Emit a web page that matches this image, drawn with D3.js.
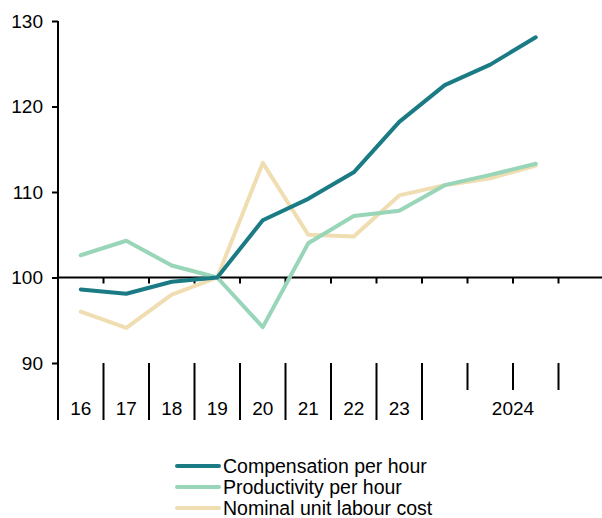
<!DOCTYPE html>
<html>
<head>
<meta charset="utf-8">
<script src="https://cdn.jsdelivr.net/npm/d3@7"></script>
<style>
  html, body { margin: 0; padding: 0; background: #fff; }
  svg { display: block; font-family: Arial, "Liberation Sans", sans-serif; }
</style>
</head>
<body>
<svg id="chart" width="602" height="518"></svg>
<script>
// Periods: annual 2016-2023, then quarters of 2024 (Q4 not yet available)
const periods = ["16", "17", "18", "19", "20", "21", "22", "23", "24Q1", "24Q2", "24Q3", "24Q4"];
const yearLabels = [
  { label: "16", from: "16", to: "16" },
  { label: "17", from: "17", to: "17" },
  { label: "18", from: "18", to: "18" },
  { label: "19", from: "19", to: "19" },
  { label: "20", from: "20", to: "20" },
  { label: "21", from: "21", to: "21" },
  { label: "22", from: "22", to: "22" },
  { label: "23", from: "23", to: "23" },
  { label: "2024", from: "24Q1", to: "24Q4" }
];
const yTicks = [90, 100, 110, 120, 130];

// Index, 2019 = 100
const compensation = [98.6, 98.1, 99.5, 100, 106.7, 109.2, 112.3, 118.2, 122.5, 124.9, 128.1];
const productivity = [102.6, 104.3, 101.4, 100, 94.2, 104.0, 107.2, 107.8, 110.8, 112.0, 113.3];
const unitLabourCost = [96.0, 94.1, 98.0, 100, 113.4, 105.0, 104.8, 109.6, 110.8, 111.6, 113.1];

const seriesNames = ["Compensation per hour", "Productivity per hour", "Nominal unit labour cost"];
const seriesColors = ["#1a7b85", "#99d5b9", "#f0deb2"];
const seriesValues = [compensation, productivity, unitLabourCost];

const svg = d3.select("#chart");
const plotLeft = 58, plotRight = 604, plotTop = 21, plotBottom = 363;
const fontFamily = "Arial, 'Liberation Sans', sans-serif";

const x = d3.scaleBand().domain(periods).range([plotLeft, plotRight]).padding(0);
const y = d3.scaleLinear().domain([90, 130]).range([plotBottom, plotTop]);

const black = "#000";

// Y axis
const yAxis = svg.append("g")
  .attr("transform", `translate(${plotLeft},0)`)
  .call(d3.axisLeft(y).tickValues(yTicks).tickSize(6).tickPadding(9).tickFormat(d3.format("d")));
yAxis.attr("font-size", null).attr("font-family", null);
yAxis.select(".domain").remove();
yAxis.selectAll(".tick line").attr("stroke", black).attr("stroke-width", 2);
yAxis.selectAll(".tick text")
  .style("font-size", "19px")
  .style("font-family", fontFamily)
  .attr("fill", black);

// Left axis line extends through the category area
svg.append("line")
  .attr("x1", plotLeft).attr("x2", plotLeft)
  .attr("y1", plotTop).attr("y2", 420)
  .attr("stroke", black).attr("stroke-width", 2);

// Baseline at 100 with ticks at period boundaries
const y100 = y(100);
svg.append("line")
  .attr("x1", plotLeft).attr("x2", 602)
  .attr("y1", y100).attr("y2", y100)
  .attr("stroke", black).attr("stroke-width", 2);
svg.append("g").selectAll("line")
  .data(periods.slice(1))
  .join("line")
  .attr("x1", d => x(d)).attr("x2", d => x(d))
  .attr("y1", y100).attr("y2", y100 + 6)
  .attr("stroke", black).attr("stroke-width", 2);

// Category separators below the plot
const quarterSet = new Set(["24Q2", "24Q3", "24Q4"]);
svg.append("g").selectAll("line")
  .data(periods.slice(1))
  .join("line")
  .attr("x1", d => x(d)).attr("x2", d => x(d))
  .attr("y1", plotBottom)
  .attr("y2", d => quarterSet.has(d) ? 390 : 420)
  .attr("stroke", black).attr("stroke-width", 2);

// Year labels
svg.append("g").selectAll("text")
  .data(yearLabels)
  .join("text")
  .attr("x", d => (x(d.from) + x(d.to) + x.bandwidth()) / 2)
  .attr("y", 415)
  .attr("text-anchor", "middle")
  .style("font-size", "19px")
  .style("font-family", fontFamily)
  .attr("fill", black)
  .text(d => d.label);

// Series lines
const line = d3.line()
  .x((d, i) => x(periods[i]) + x.bandwidth() / 2)
  .y(d => y(d));

// Draw unit labour cost first, then productivity, then compensation on top
[2, 1, 0].forEach(k => {
  svg.append("path")
    .datum(seriesValues[k])
    .attr("d", line)
    .attr("fill", "none")
    .attr("stroke", seriesColors[k])
    .attr("stroke-width", 4)
    .attr("stroke-linejoin", "round")
    .attr("stroke-linecap", "round");
});

// Legend
const legend = svg.append("g");
seriesNames.forEach((name, i) => {
  const ly = 466 + i * 21;
  legend.append("line")
    .attr("x1", 177).attr("x2", 219)
    .attr("y1", ly).attr("y2", ly)
    .attr("stroke", seriesColors[i])
    .attr("stroke-width", 4)
    .attr("stroke-linecap", "round");
  legend.append("text")
    .attr("x", 223).attr("y", ly + 7)
    .style("font-size", "19.5px")
    .style("font-family", fontFamily)
    .attr("fill", black)
    .text(name);
});
</script>
</body>
</html>
